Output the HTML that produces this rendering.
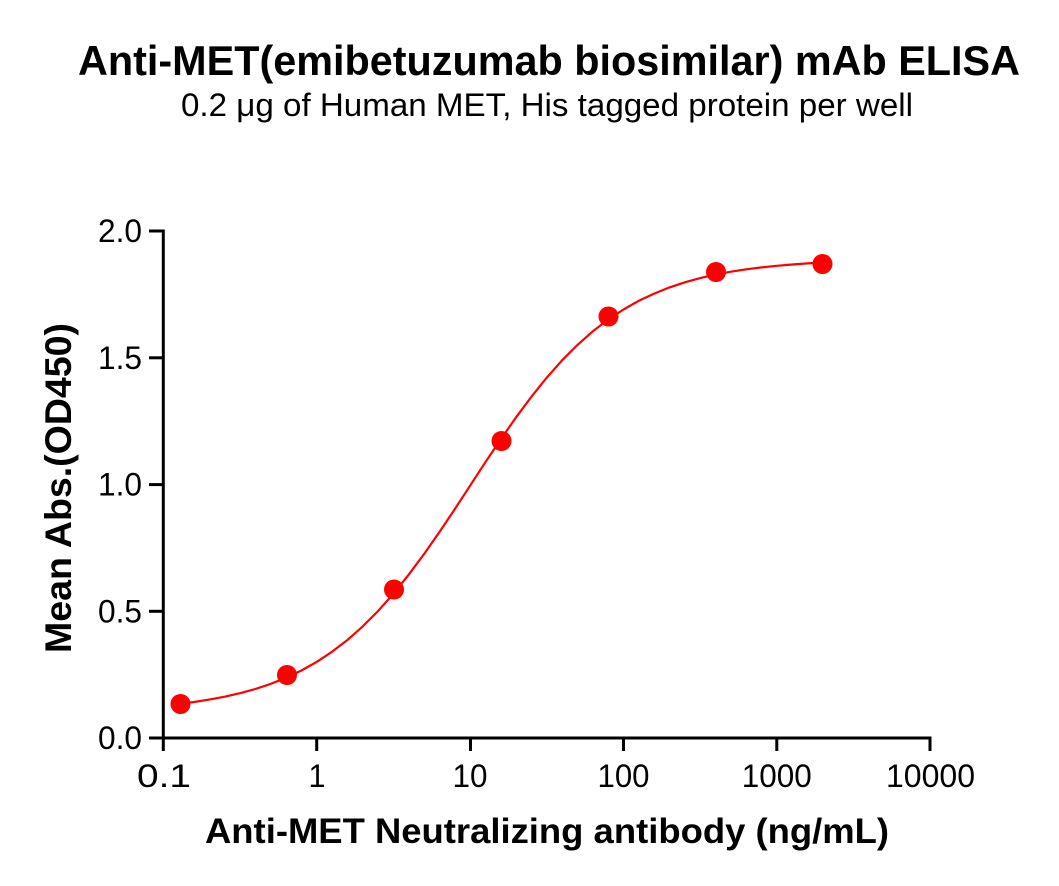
<!DOCTYPE html>
<html>
<head>
<meta charset="utf-8">
<style>
  html, body { margin: 0; padding: 0; background: #ffffff; }
  svg { display: block; }
  text { font-family: "Liberation Sans", Arial, sans-serif; fill: #000; }
</style>
</head>
<body>
<svg width="1059" height="886" viewBox="0 0 1059 886" xmlns="http://www.w3.org/2000/svg">
  <rect x="0" y="0" width="1059" height="886" fill="#ffffff"/>

  <!-- Title -->
  <text x="78" y="75" font-size="42" font-weight="bold" textLength="942" lengthAdjust="spacingAndGlyphs">Anti-MET(emibetuzumab biosimilar) mAb ELISA</text>
  <text x="181" y="116" font-size="32" textLength="732" lengthAdjust="spacingAndGlyphs">0.2 μg of Human MET, His tagged protein per well</text>

  <!-- Axes -->
  <g stroke="#000" stroke-width="3" fill="none" stroke-linecap="butt">
    <line x1="163.3" y1="229.5" x2="163.3" y2="751"/>
    <line x1="149" y1="738" x2="931.5" y2="738"/>
    <line x1="149" y1="231" x2="163" y2="231"/>
    <line x1="149" y1="357.8" x2="163" y2="357.8"/>
    <line x1="149" y1="484.6" x2="163" y2="484.6"/>
    <line x1="149" y1="611.3" x2="163" y2="611.3"/>
    <line x1="316.7" y1="738" x2="316.7" y2="751"/>
    <line x1="470.5" y1="738" x2="470.5" y2="751"/>
    <line x1="623.5" y1="738" x2="623.5" y2="751"/>
    <line x1="776.8" y1="738" x2="776.8" y2="751"/>
    <line x1="930" y1="738" x2="930" y2="751"/>
  </g>

  <!-- Y tick labels -->
  <g font-size="32">
    <text x="98" y="242" textLength="44" lengthAdjust="spacingAndGlyphs">2.0</text>
    <text x="98" y="368.8" textLength="44" lengthAdjust="spacingAndGlyphs">1.5</text>
    <text x="98" y="495.6" textLength="44" lengthAdjust="spacingAndGlyphs">1.0</text>
    <text x="98" y="622.3" textLength="44" lengthAdjust="spacingAndGlyphs">0.5</text>
    <text x="98" y="749" textLength="44" lengthAdjust="spacingAndGlyphs">0.0</text>
  </g>

  <!-- X tick labels -->
  <g font-size="32">
    <text x="137" y="787" textLength="54" lengthAdjust="spacingAndGlyphs">0.1</text>
    <text x="308.5" y="787" textLength="17" lengthAdjust="spacingAndGlyphs">1</text>
    <text x="452.5" y="787" textLength="35" lengthAdjust="spacingAndGlyphs">10</text>
    <text x="597.5" y="787" textLength="52" lengthAdjust="spacingAndGlyphs">100</text>
    <text x="741.8" y="787" textLength="70" lengthAdjust="spacingAndGlyphs">1000</text>
    <text x="886" y="787" textLength="89" lengthAdjust="spacingAndGlyphs">10000</text>
  </g>

  <!-- Axis titles -->
  <text x="205" y="843" font-size="35" font-weight="bold" textLength="684" lengthAdjust="spacingAndGlyphs">Anti-MET Neutralizing antibody (ng/mL)</text>
  <text transform="translate(71,653) rotate(-90)" x="0" y="0" font-size="37" font-weight="bold" textLength="330" lengthAdjust="spacingAndGlyphs">Mean Abs.(OD450)</text>

  <!-- Fitted curve -->
  <polyline fill="none" stroke="#ff0000" stroke-width="2.2" stroke-linejoin="round" stroke-linecap="round"
    points="180.0,703.8 194.0,702.0 209.3,699.6 224.7,696.7 240.0,693.2 255.3,689.0 270.7,683.9 286.0,677.8 301.4,670.5 316.7,661.9 332.0,651.8 347.4,640.0 362.7,626.4 378.1,611.0 393.4,593.8 408.7,574.7 424.1,554.0 439.4,532.1 454.8,509.1 470.1,485.7 485.4,462.2 500.8,439.3 516.1,417.3 531.5,396.6 546.8,377.6 562.1,360.3 577.5,344.9 592.8,331.3 608.2,319.6 623.5,309.5 638.8,300.8 654.2,293.6 669.5,287.4 684.9,282.3 700.2,278.1 715.5,274.6 730.9,271.7 746.2,269.3 761.6,267.4 776.9,265.8 792.2,264.5 807.6,263.4 823.0,262.5"/>

  <!-- Data points -->
  <g fill="#ff0000">
    <circle cx="180.5" cy="704" r="10"/>
    <circle cx="287" cy="675" r="10"/>
    <circle cx="394" cy="589.5" r="10"/>
    <circle cx="501.5" cy="441" r="10"/>
    <circle cx="608.5" cy="316.5" r="10"/>
    <circle cx="716" cy="272" r="10"/>
    <circle cx="822.5" cy="264" r="10"/>
  </g>
</svg>
</body>
</html>
